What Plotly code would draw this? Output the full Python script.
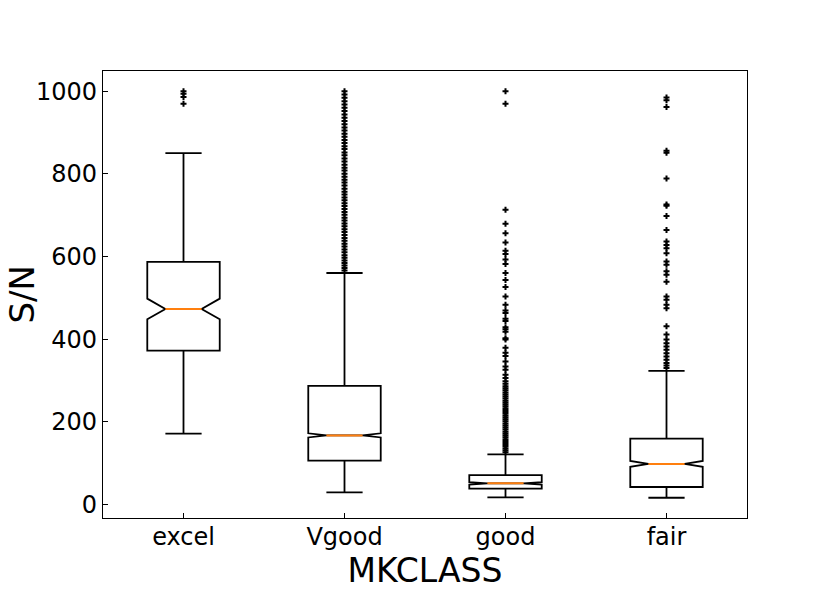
import plotly.graph_objects as go

categories = ["excel", "Vgood", "good", "fair"]
q1 = [372, 106, 38, 42]
median = [473, 167, 51, 98]
q3 = [587, 287, 71, 159]
lower_whisker = [171, 29, 17, 16]
upper_whisker = [850, 560, 121, 323]
notch_span = [25, 5, 3, 7]

# fliers
out_excel = [1000, 994, 986, 970]
out_vgood = [566, 572, 578, 584, 590, 597, 603, 610, 617, 624, 631, 638, 645, 652,
             659, 666, 673, 680, 687, 694, 701, 708, 715, 722, 729, 736, 743, 750,
             757, 764, 772, 779, 786, 793, 800, 808, 815, 822, 830, 837, 845, 852,
             860, 867, 875, 882, 890, 897, 905, 912, 920, 928, 936, 944, 952, 960,
             968, 976, 984, 992, 1000]
out_good = [126, 131, 136, 141, 146, 151, 156, 161, 166, 171, 176, 181, 186, 191,
            196, 201, 206, 211, 216, 221, 226, 231, 236, 241, 246, 251, 256, 261,
            266, 271, 276, 281, 286, 292, 298, 306, 314, 326, 334, 346, 359, 367,
            379, 399, 402, 418, 424, 429, 444, 449, 463, 469, 483, 503, 526, 543,
            560, 582, 593, 606, 614, 634, 656, 679, 713, 970, 1000]
out_fair = [330, 336, 342, 350, 358, 366, 374, 382, 390, 399, 411, 431, 475, 483,
            495, 503, 539, 556, 564, 580, 588, 608, 620, 628, 636, 664, 698, 723,
            726, 789, 851, 856, 962, 978, 985]
outliers = [out_excel, out_vgood, out_good, out_fair]

box_w = 0.45
fig = go.Figure()

for i, cat in enumerate(categories):
    pos = i + 1
    fig.add_trace(go.Box(
        x=[pos], q1=[q1[i]], median=[median[i]], q3=[q3[i]],
        lowerfence=[lower_whisker[i]], upperfence=[upper_whisker[i]],
        notchspan=[notch_span[i]], notched=True, notchwidth=0.25,
        width=box_w, whiskerwidth=0.5, boxpoints=False,
        fillcolor="white", line=dict(color="black", width=1.8),
        name=cat, showlegend=False, hoverinfo="skip"))
    # orange median line across the notch
    fig.add_trace(go.Scatter(
        x=[pos - box_w / 4, pos + box_w / 4], y=[median[i], median[i]],
        mode="lines", line=dict(color="#ff7f0e", width=2),
        showlegend=False, hoverinfo="skip"))
    fig.add_trace(go.Scatter(
        x=[pos] * len(outliers[i]), y=outliers[i], mode="markers",
        marker=dict(symbol="cross", size=5, color="black"),
        showlegend=False, hoverinfo="skip"))

axis_style = dict(showline=True, linecolor="black", linewidth=1.3, mirror=True,
                  ticks="inside", ticklen=5, tickwidth=1.3, tickcolor="black",
                  showgrid=False, zeroline=False, automargin=False,
                  tickfont=dict(family="DejaVu Sans", size=24, color="black"))

fig.update_layout(
    width=830, height=593,
    margin=dict(l=103, r=83, t=71, b=75),
    plot_bgcolor="white", paper_bgcolor="white",
    font=dict(family="DejaVu Sans", color="black"),
    xaxis=dict(range=[0.5, 4.5], tickvals=[1, 2, 3, 4], ticktext=categories,
               ticklabelstandoff=-3,
               title=dict(text="MKCLASS", font=dict(size=33), standoff=0),
               **axis_style),
    yaxis=dict(range=[-33, 1049], tickvals=[0, 200, 400, 600, 800, 1000],
               **axis_style),
)

# y title as annotation so it can sit close to the page edge
fig.add_annotation(text="S/N", textangle=-90, xref="paper", yref="paper",
                   x=0, y=0.5, xanchor="center", yanchor="middle", xshift=-82,
                   showarrow=False, font=dict(size=34, color="black"))

# drop the default body margin so the figure fills the window
fig.write_html("out.html", config={"displayModeBar": False},
               post_script="document.body.style.margin='0';"
                           "document.body.style.overflow='hidden';")
